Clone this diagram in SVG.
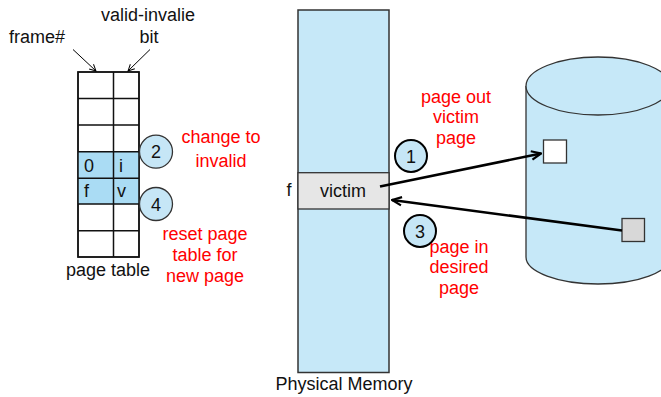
<svg xmlns="http://www.w3.org/2000/svg" width="661" height="397" viewBox="0 0 661 397">
  <defs>
    <marker id="thin" viewBox="0 0 10 10" refX="9" refY="5" markerWidth="8" markerHeight="8" markerUnits="userSpaceOnUse" orient="auto">
      <path d="M1,1 L9,5 L1,9" fill="none" stroke="#000" stroke-width="1.2"/>
    </marker>
    <marker id="bold" viewBox="0 0 10 10" refX="9" refY="5" markerWidth="12" markerHeight="12" markerUnits="userSpaceOnUse" orient="auto">
      <path d="M1,1.5 L9,5 L1,8.5" fill="none" stroke="#000" stroke-width="1.8"/>
    </marker>
  </defs>
  <style>
    text { font-family: "Liberation Sans", Arial, sans-serif; font-size: 18px; fill: #111; }
    .red { fill: #ff0000; }
    .mid { text-anchor: middle; }
    .cell { fill: #fff; stroke: #222; stroke-width: 1.5; }
    .hl { fill: #aadcf4; }
    .grid { stroke: #111; stroke-width: 1.5; fill: none; }
    .step { fill: #c6e6f6; stroke: #333; stroke-width: 1.3; }
    .stepb { fill: #c6e6f6; stroke: #000; stroke-width: 2; }
    .conn { stroke: #000; stroke-width: 2.5; fill: none; }
    .ptr { stroke: #000; stroke-width: 1; fill: none; }
  </style>

  <!-- page table -->
  <g id="page-table">
    <rect x="78" y="72" width="61" height="185" class="cell"/>
    <rect x="78" y="151.7" width="61" height="52.3" class="hl"/>
    <path class="grid" d="M78,72 H139 V257 H78 Z M113.5,72 V257 M78,98.5 H139 M78,125 H139 M78,151.7 H139 M78,178.3 H139 M78,204 H139 M78,230.7 H139"/>
    <text x="84" y="172">0</text>
    <text x="119" y="172">i</text>
    <text x="84" y="197">f</text>
    <text x="117" y="197">v</text>
    <text x="108" y="276" class="mid">page table</text>
  </g>

  <g id="label-frame">
    <text x="37" y="43" class="mid">frame#</text>
  </g>
  <g id="label-bit">
    <text class="mid"><tspan x="148" y="21">valid-invalie</tspan><tspan x="149" y="43">bit</tspan></text>
  </g>

  <!-- step markers -->
  <g id="step-2">
    <circle cx="156" cy="151.7" r="16.5" class="step"/>
    <text x="156" y="158" class="mid">2</text>
  </g>
  <g id="step-4">
    <circle cx="156" cy="204" r="16.5" class="step"/>
    <text x="156" y="210.5" class="mid">4</text>
  </g>
  <g id="note-invalid">
    <text class="mid red"><tspan x="221" y="143">change to</tspan><tspan x="221" y="167">invalid</tspan></text>
  </g>
  <g id="note-reset">
    <text class="mid red"><tspan x="205" y="240">reset page</tspan><tspan x="205" y="261">table for</tspan><tspan x="205" y="282">new page</tspan></text>
  </g>

  <!-- physical memory -->
  <g id="physical-memory">
    <rect x="298" y="10" width="91" height="362.5" fill="#c6e8f8" stroke="#333" stroke-width="1.5"/>
    <text x="344" y="390" class="mid">Physical Memory</text>
  </g>
  <g id="victim-frame">
    <rect x="298" y="172.7" width="91" height="36.3" fill="#e6e6e6" stroke="#333" stroke-width="1.3"/>
    <text x="343" y="197" class="mid">victim</text>
    <text x="289" y="196" class="mid">f</text>
  </g>

  <g id="step-1">
    <circle cx="411" cy="156" r="16" class="stepb"/>
    <text x="411" y="162.5" class="mid">1</text>
  </g>
  <g id="step-3">
    <circle cx="420" cy="231" r="16" class="stepb"/>
    <text x="420" y="237.5" class="mid">3</text>
  </g>
  <g id="note-page-out">
    <text class="mid red"><tspan x="456" y="102.5">page out</tspan><tspan x="456" y="123">victim</tspan><tspan x="456" y="143.5">page</tspan></text>
  </g>
  <g id="note-page-in">
    <text class="mid red"><tspan x="459" y="252.5">page in</tspan><tspan x="459" y="273">desired</tspan><tspan x="459" y="293.5">page</tspan></text>
  </g>

  <!-- backing store -->
  <g id="disk">
    <path d="M526,86 V257 A72,27 0 0 0 670,257 V86" fill="#c6e8f8" stroke="#333" stroke-width="1.3"/>
    <ellipse cx="598" cy="86" rx="72" ry="29" fill="#c6e8f8" stroke="#333" stroke-width="1.3"/>
  </g>
  <g id="swap-slot-out">
    <rect x="543.5" y="140" width="23" height="23" fill="#fff" stroke="#333" stroke-width="1.3"/>
  </g>
  <g id="swap-slot-in">
    <rect x="622" y="218.5" width="22.5" height="23" fill="#d8d8d8" stroke="#333" stroke-width="1.3"/>
  </g>

  <!-- connectors -->
  <g id="connectors">
    <line x1="73" y1="49.5" x2="96" y2="71" class="ptr" marker-end="url(#thin)"/>
    <line x1="150" y1="49.5" x2="128" y2="71" class="ptr" marker-end="url(#thin)"/>
    <line x1="380" y1="186.5" x2="541" y2="153.5" class="conn" marker-end="url(#bold)"/>
    <line x1="622" y1="230.5" x2="392" y2="200" class="conn" marker-end="url(#bold)"/>
  </g>
</svg>
